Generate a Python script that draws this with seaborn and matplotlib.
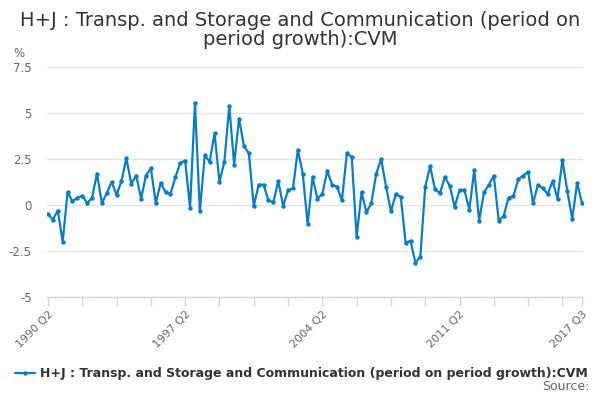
import numpy as np
import pandas as pd
import seaborn as sns
import matplotlib
matplotlib.use("Agg")
import matplotlib.pyplot as plt

# quarterly growth, 1990 Q2 .. 2017 Q3
start_year, start_q = 1990, 2
growth = [
    -0.5, -0.8, -0.3, -2.0, 0.7, 0.2, 0.4, 0.5, 0.1, 0.4,
    1.7, 0.1, 0.65, 1.25, 0.55, 1.3, 2.55, 1.15, 1.6, 0.35,
    1.6, 2.0, 0.1, 1.2, 0.7, 0.6, 1.5, 2.3, 2.4, -0.15,
    5.55, -0.35, 2.7, 2.35, 3.9, 1.25, 2.35, 5.4, 2.2, 4.7,
    3.2, 2.8, -0.05, 1.1, 1.1, 0.25, 0.15, 1.3, -0.05, 0.8,
    0.9, 3.0, 1.7, -1.05, 1.5, 0.35, 0.6, 1.85, 1.1, 1.0,
    0.25, 2.8, 2.6, -1.75, 0.7, -0.4, 0.1, 1.7, 2.5, 1.0,
    -0.35, 0.6, 0.45, -2.05, -1.95, -3.15, -2.8, 1.0, 2.1, 0.85,
    0.65, 1.5, 1.05, -0.1, 0.8, 0.8, -0.25, 1.9, -0.85, 0.7,
    1.1, 1.6, -0.85, -0.6, 0.4, 0.5, 1.4, 1.6, 1.8, 0.1,
    1.1, 0.9, 0.6, 1.3, 0.35, 2.45, 0.75, -0.75, 1.2, 0.1,
]
tick_labels = ["1990 Q2", "1997 Q2", "2004 Q2", "2011 Q2", "2017 Q3"]
yticks = [-5, -2.5, 0, 2.5, 5, 7.5]
ytick_text = ["-5", "-2.5", "0", "2.5", "5", "7.5"]
series_name = "H+J : Transp. and Storage and Communication (period on period growth):CVM"

quarters = []
y, q = start_year, start_q
for _ in growth:
    quarters.append(f"{y} Q{q}")
    q += 1
    if q > 4:
        q = 1
        y += 1

df = pd.DataFrame({"quarter": quarters, "growth": growth})
df["idx"] = np.arange(len(df))

sns.set_theme(style="white")
plt.rcParams["font.family"] = ["DejaVu Sans"]

blue = "#0a7cc1"
grey = "#666666"
fig = plt.figure(figsize=(6, 4), dpi=100)
ax = fig.add_axes([47 / 600, 1 - 297 / 400, 536 / 600, 230 / 400])

sns.lineplot(data=df, x="idx", y="growth", ax=ax, color=blue, linewidth=1.6,
             marker="o", markersize=3.2, markeredgewidth=0, label=series_name)

ax.set_ylim(-5, 7.5)
ax.set_xlim(-0.2, 109.2)
ax.set_yticks(yticks)
ax.set_yticklabels(ytick_text, fontsize=8.5, color=grey)
ax.grid(axis="y", color="#e4e4e4", linewidth=1)
ax.set_axisbelow(True)

# tick marks every 7 quarters plus the last one, labels only on some
tick_pos = list(range(0, len(growth), 7)) + [len(growth) - 1]
ax.set_xticks(tick_pos)
ax.set_xticklabels([quarters[p] if quarters[p] in tick_labels else "" for p in tick_pos],
                   rotation=45, ha="right", va="top", rotation_mode="anchor",
                   fontsize=8, color=grey)
ax.tick_params(axis="x", bottom=True, length=6.5, width=1, color="#ccd6eb", pad=2)
ax.tick_params(axis="y", length=0, pad=11)
ax.set_xlabel("")
ax.set_ylabel("")
for s in ax.spines.values():
    s.set_visible(False)
ax.spines["bottom"].set_visible(True)
ax.spines["bottom"].set_color("#ccd6eb")
ax.spines["bottom"].set_linewidth(1)

fig.text(0.5, 0.972, "H+J : Transp. and Storage and Communication (period on\nperiod growth):CVM",
         ha="center", va="top", fontsize=14, color="#333333", linespacing=0.98)
fig.text(0.022, 0.858, "%", fontsize=8.5, color=grey)

handles, labels = ax.get_legend_handles_labels()
ax.get_legend().remove()
leg = fig.legend(handles, labels, loc="center left", bbox_to_anchor=(0.025, 0.065),
                 frameon=False, fontsize=9, handlelength=1.6, handletextpad=0.4,
                 borderaxespad=0, borderpad=0)
for t in leg.get_texts():
    t.set_fontweight("bold")
    t.set_color("#333333")
fig.text(0.982, 0.018, "Source:", ha="right", va="bottom", fontsize=9, color=grey)

fig.savefig("out.png", dpi=100)
